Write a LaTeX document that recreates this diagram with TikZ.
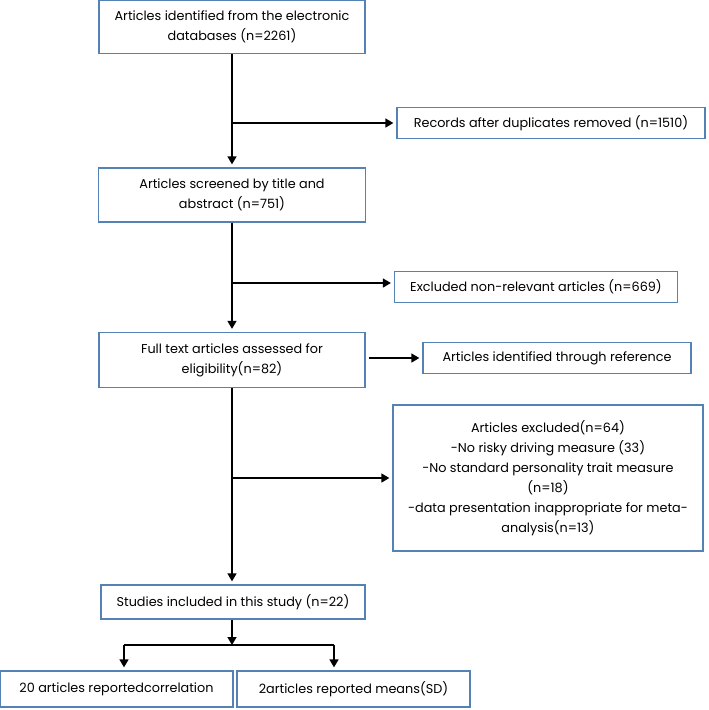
\documentclass[tikz,border=0pt]{standalone}
\usepackage{fontspec}
\setmainfont{Poppins}
\usepackage{tikz}
\usetikzlibrary{arrows.meta}
\definecolor{boxline}{RGB}{84,130,180}

\begin{document}
\begin{tikzpicture}[x=1pt,y=-1pt,
        box/.style={draw=boxline,line width=1.3pt,align=center,inner sep=0pt,
            font=\fontsize{12.8}{20}\selectfont},
        arr/.style={-{Triangle[length=8pt,width=9pt]},line width=1.6pt,shorten >=3pt}]
                \useasboundingbox (0,0) rectangle (709,710);

                % Main column
                \node[box,minimum width=266pt,minimum height=53pt] (ident) at (232,27) {Articles identified from the electronic\\databases (n=2261)};
                \node[box,minimum width=267pt,minimum height=54pt] (screen) at (232,195) {Articles screened by title and\\abstract (n=751)};
                \node[box,minimum width=266pt,minimum height=55pt] (full) at (232,360) {Full text articles assessed for\\eligibility(n=82)};
                \node[box,minimum width=264pt,minimum height=34pt] (incl) at (233,602) {Studies included in this study (n=22)};

                % Side boxes
                \node[box,minimum width=308pt,minimum height=31pt] (dupl) at (551,123) {Records after duplicates removed (n=1510)};
                \node[box,minimum width=283pt,minimum height=31pt] (nonrel) at (536,287) {Excluded non-relevant articles (n=669)};
                \node[box,minimum width=268pt,minimum height=31pt] (refs) at (557,358) {Articles identified through reference};
                \node[box,minimum width=310pt,minimum height=146pt] (excl) at (548,478) {Articles excluded(n=64)\\-No risky driving measure (33)\\-No standard personality trait measure\\(n=18)\\-data presentation inappropriate for meta-\\analysis(n=13)};

                % Bottom boxes
                \node[box,minimum width=233pt,minimum height=36pt] (corr) at (116.5,689) {20 articles reportedcorrelation};
                \node[box,minimum width=233pt,minimum height=36pt] (means) at (353.5,689) {2articles reported means(SD)};

                % Branch points
                \coordinate (j1) at (232,123);
                \coordinate (j2) at (232,283);
                \coordinate (j3) at (232,478);
                \coordinate (split) at (232,645);
                \coordinate (sl) at (124,645);
                \coordinate (sr) at (334,645);

                % Arrows
                \draw[arr] (ident) -- (screen);
                \draw[arr] (j1) -- (dupl.west);
                \draw[arr] (screen) -- (full);
                \draw[arr] (j2) -- (j2 -| nonrel.west);
                \draw[arr,shorten <=3pt] (full.east |- refs.west) -- (refs.west);
                \draw[arr] (full.south) -- (full.south |- incl.north);
                \draw[arr] (j3) -- (excl.west);
                \draw[arr,shorten >=0pt] (incl.south -| split) -- (split);
                \draw[line width=1.6pt] (sl) -- (sr);
                \draw[arr] (sl) -- (sl |- corr.north);
                \draw[arr] (sr) -- (sr |- means.north);
            \end{tikzpicture}
\end{document}
